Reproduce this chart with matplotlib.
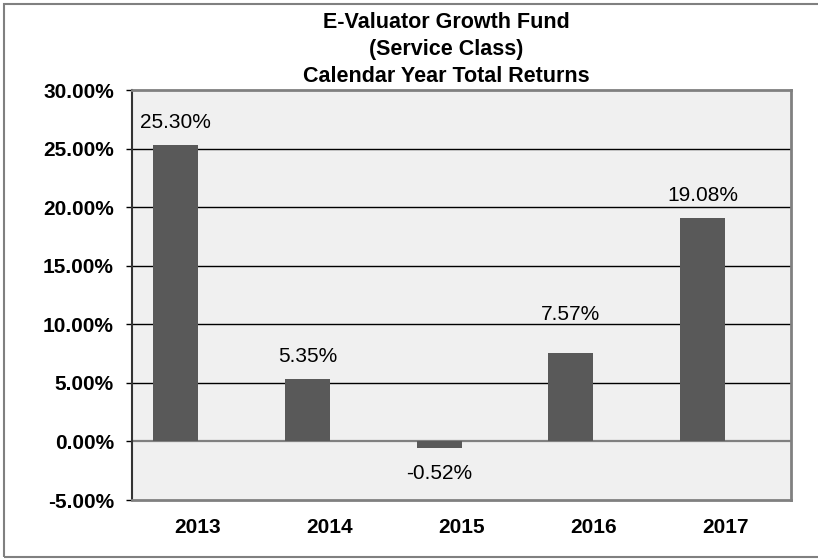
import matplotlib.pyplot as plt
import numpy as np
from matplotlib.patches import Rectangle

years = ['2013', '2014', '2015', '2016', '2017']
returns = [25.30, 5.35, -0.52, 7.57, 19.08]
yticks = [-5, 0, 5, 10, 15, 20, 25, 30]

plt.rcParams['font.family'] = ['Liberation Sans', 'DejaVu Sans']

fig = plt.figure(figsize=(8.18, 5.6), dpi=100)
ax = fig.add_axes([132/818, 1 - 500/560, 659/818, 410/560])
ax.set_facecolor('#f0f0f0')

x = np.arange(len(years))
bar_w = 0.34
offset = -0.17
ax.bar(x + offset, returns, width=bar_w, color='#595959', zorder=3)

# horizontal grid lines
for t in yticks[2:-1]:
    ax.axhline(t, color='black', lw=1.0, zorder=2)
ax.axhline(0, color='#808080', lw=1.6, zorder=2)

# value labels (the 2016 one sits above the 10% line in the original)
lift = {3: 3.3}
for i, (xi, v) in enumerate(zip(x, returns)):
    if v >= 0:
        ax.text(xi + offset, v + lift.get(i, 1.9), f'{v:.2f}%', ha='center', va='center', fontsize=15)
    else:
        ax.text(xi + offset, v - 2.2, f'{v:.2f}%', ha='center', va='center', fontsize=15)

ax.set_xlim(-0.5, len(years) - 0.5)
ax.set_ylim(-5, 30)
ax.set_yticks(yticks)
ax.set_yticklabels([f'{t:.2f}%' for t in yticks], fontsize=15, fontweight='bold')
ax.set_xticks(x)
ax.set_xticklabels(years, fontsize=15, fontweight='bold')
ax.tick_params(axis='x', length=0, pad=13)
ax.tick_params(axis='y', length=4, width=1, pad=9, color='black')

for s in ax.spines.values():
    s.set_color('#808080')
    s.set_linewidth(2)
ax.spines['left'].set_color('#333333')
ax.spines['left'].set_linewidth(1.5)

# title lines
title = ['E-Valuator Growth Fund', '(Service Class)', 'Calendar Year Total Returns']
for i, line in enumerate(title):
    fig.text(446/818, 1 - (23 + 27*i)/560, line, ha='center', va='center',
             fontsize=15.5, fontweight='bold')

# outer border
fig.patches.append(Rectangle((4/818, 3/560), 820/818, 553/560, transform=fig.transFigure,
                             fill=False, edgecolor='#808080', lw=1.5))

fig.savefig('out.png', dpi=100)
